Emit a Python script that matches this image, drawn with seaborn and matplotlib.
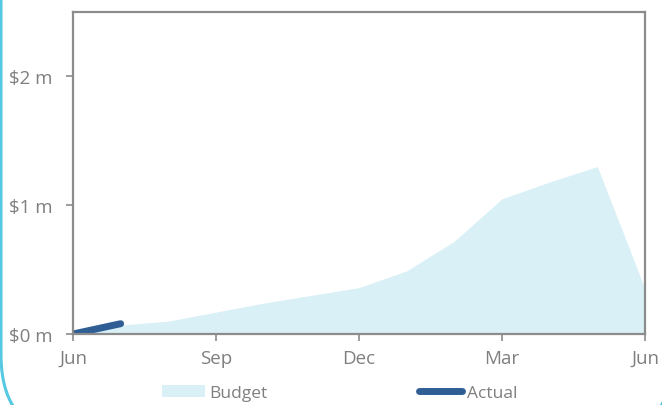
import matplotlib
matplotlib.use("Agg")
import matplotlib.pyplot as plt
from matplotlib.patches import FancyBboxPatch
from matplotlib.lines import Line2D
from matplotlib.patches import Patch
import numpy as np
import pandas as pd
import seaborn as sns

# Monthly values, June through the following June ($ millions)
months = ["Jun", "Jul", "Aug", "Sep", "Oct", "Nov", "Dec",
          "Jan", "Feb", "Mar", "Apr", "May", "Jun"]
budget = [0.03, 0.07, 0.10, 0.17, 0.24, 0.30, 0.36,
          0.49, 0.72, 1.05, 1.18, 1.30, 0.35]
actual_months = ["Jun", "Jul"]
actual = [0.0, 0.08]

tick_months = ["Jun", "Sep", "Dec", "Mar", "Jun"]
tick_pos = [0, 3, 6, 9, 12]
y_ticks = [0, 1, 2]
y_labels = ["$0 m", "$1 m", "$2 m"]

sns.set_theme(style="white")
plt.rcParams["font.family"] = ["Open Sans", "DejaVu Sans"]

TEXT = "#7f7f7f"
SPINE = "#8c8c8c"
BUDGET_C = "#d9f0f6"
ACTUAL_C = "#2f5e95"

fig = plt.figure(figsize=(6.62, 4.06), dpi=100)
ax = fig.add_axes([73 / 662, 71 / 406, 572 / 662, 322 / 406])

df_b = pd.DataFrame({"idx": np.arange(len(months)), "value": budget})
df_a = pd.DataFrame({"idx": np.arange(len(actual_months)), "value": actual})

ax.fill_between(df_b["idx"], 0, df_b["value"], color=BUDGET_C, linewidth=0)
sns.lineplot(data=df_a, x="idx", y="value", ax=ax, color=ACTUAL_C,
             linewidth=5, solid_capstyle="round", legend=False)

ax.set_xlim(0, 12)
ax.set_ylim(0, 2.5)
ax.set_xticks(tick_pos)
ax.set_xticklabels(tick_months)
ax.set_yticks(y_ticks)
ax.set_yticklabels(y_labels)
ax.set_xlabel("")
ax.set_ylabel("")

for s in ax.spines.values():
    s.set_color(SPINE)
    s.set_linewidth(1.6)

ax.tick_params(axis="both", colors=SPINE, labelcolor=TEXT, labelsize=13.5,
               length=5, width=1.2, direction="out",
               bottom=True, left=True)
ax.tick_params(axis="y", pad=10)
ax.tick_params(axis="x", pad=6)

handles = [Patch(facecolor=BUDGET_C, edgecolor="none", label="Budget"),
           Line2D([0], [0], color=ACTUAL_C, linewidth=5,
                  solid_capstyle="round", label="Actual")]
leg = fig.legend(handles=handles, loc="lower center", ncol=2,
                 bbox_to_anchor=(0.513, -0.028), frameon=False,
                 fontsize=12.5, handlelength=2.5, handleheight=0.7,
                 handletextpad=0.25, columnspacing=8.7)
for t in leg.get_texts():
    t.set_color(TEXT)

# Rounded card border around the chart
border = FancyBboxPatch((1, -33), 672, 800,
                        boxstyle="round,pad=0,rounding_size=83",
                        transform=None, fill=False,
                        edgecolor="#55c8e2", linewidth=2.2)
fig.patches.append(border)

fig.savefig("out.png", dpi=100)
